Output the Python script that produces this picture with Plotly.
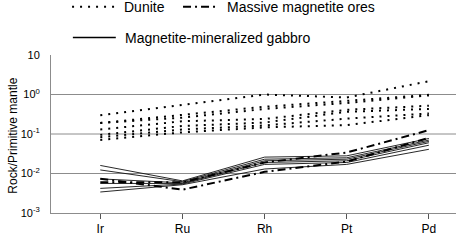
import plotly.graph_objects as go

elements = ["Ir", "Ru", "Rh", "Pt", "Pd"]

dunite = [
    [0.30, 0.54, 1.00, 0.84, 2.17],
    [0.19, 0.31, 0.49, 0.69, 0.98],
    [0.19, 0.26, 0.43, 0.61, 0.95],
    [0.13, 0.21, 0.24, 0.41, 0.52],
    [0.095, 0.16, 0.195, 0.365, 0.43],
    [0.083, 0.13, 0.165, 0.245, 0.33],
    [0.071, 0.11, 0.147, 0.168, 0.30],
]

gabbro = [
    [0.016, 0.0065, 0.026, 0.028, 0.077],
    [0.0123, 0.0062, 0.023, 0.025, 0.070],
    [0.0073, 0.0058, 0.021, 0.023, 0.065],
    [0.0056, 0.0056, 0.019, 0.021, 0.060],
    [0.0042, 0.0054, 0.017, 0.019, 0.052],
    [0.0034, 0.0052, 0.013, 0.017, 0.041],
]

magnetite = [
    [0.0060, 0.0060, 0.019, 0.034, 0.125],
    [0.0074, 0.0039, 0.011, 0.020, 0.080],
]

y_tickvals = [0.001, 0.01, 0.1, 1, 10]
y_ticktext = ["10<sup>-3</sup>", "10<sup>-2</sup>", "10<sup>-1</sup>", "10<sup>0</sup>", "10"]
grid_vals = [0.01, 0.1, 1]

DOT = "2px,6px"
DASHDOT = "8px,4px,2px,4px"
FONT = "Arial, Liberation Sans, sans-serif"

fig = go.Figure()

for row in gabbro:
    fig.add_trace(go.Scatter(x=elements, y=row, mode="lines",
                             line=dict(color="#111111", width=0.9),
                             showlegend=False, hoverinfo="skip"))
for row in magnetite:
    fig.add_trace(go.Scatter(x=elements, y=row, mode="lines",
                             line=dict(color="black", width=2, dash=DASHDOT),
                             showlegend=False, hoverinfo="skip"))
for row in dunite:
    fig.add_trace(go.Scatter(x=elements, y=row, mode="lines",
                             line=dict(color="black", width=2, dash=DOT),
                             showlegend=False, hoverinfo="skip"))

shapes = []
for g in grid_vals:
    shapes.append(dict(type="line", xref="paper", yref="y", x0=0, x1=1, y0=g, y1=g,
                       line=dict(color="#8c8c8c", width=1), layer="below"))

# legend samples
shapes.append(dict(type="line", xref="paper", yref="paper", x0=0.052, x1=0.158,
                   y0=1.305, y1=1.305, line=dict(color="black", width=2, dash=DOT)))
shapes.append(dict(type="line", xref="paper", yref="paper", x0=0.326, x1=0.412,
                   y0=1.305, y1=1.305, line=dict(color="black", width=2, dash=DASHDOT)))
shapes.append(dict(type="line", xref="paper", yref="paper", x0=0.054, x1=0.160,
                   y0=1.111, y1=1.111, line=dict(color="black", width=1.5)))

annotations = [
    dict(text="Dunite", xref="paper", yref="paper", x=0.175, y=1.305,
         xanchor="left", yanchor="middle", showarrow=False,
         font=dict(size=14, color="black", family=FONT)),
    dict(text="Massive magnetite ores", xref="paper", yref="paper", x=0.430, y=1.305,
         xanchor="left", yanchor="middle", showarrow=False,
         font=dict(size=14, color="black", family=FONT)),
    dict(text="Magnetite-mineralized gabbro", xref="paper", yref="paper", x=0.178, y=1.109,
         xanchor="left", yanchor="middle", showarrow=False,
         font=dict(size=14, color="black", family=FONT)),
    dict(text="Rock/Primitive mantle", xref="paper", yref="paper", x=-0.096, y=0.49,
         xanchor="center", yanchor="middle", textangle=-90, showarrow=False,
         font=dict(size=12, color="black", family=FONT)),
]

fig.update_layout(
    width=460, height=240,
    margin=dict(l=51, r=4, t=55, b=23),
    paper_bgcolor="white", plot_bgcolor="white",
    font=dict(family=FONT, color="black"),
    showlegend=False,
    shapes=shapes,
    annotations=annotations,
    xaxis=dict(
        type="category", categoryorder="array", categoryarray=elements,
        range=[-0.6, 4.33], showgrid=False, zeroline=False,
        showline=True, linecolor="#8c8c8c", linewidth=1,
        ticks="outside", ticklen=5, tickcolor="#555555", tickwidth=1,
        tickfont=dict(size=12, color="black", family=FONT),
    ),
    yaxis=dict(
        type="log", range=[-3, 1], showgrid=False, zeroline=False,
        showline=True, linecolor="#8c8c8c", linewidth=1,
        tickvals=y_tickvals, ticktext=y_ticktext, ticks="",
        ticklabelstandoff=8,
        tickfont=dict(size=11, color="black", family=FONT),
    ),
)

fig.write_html("out.html", config={"displayModeBar": False},
               post_script="document.body.style.margin='0';document.body.style.overflow='hidden';")
